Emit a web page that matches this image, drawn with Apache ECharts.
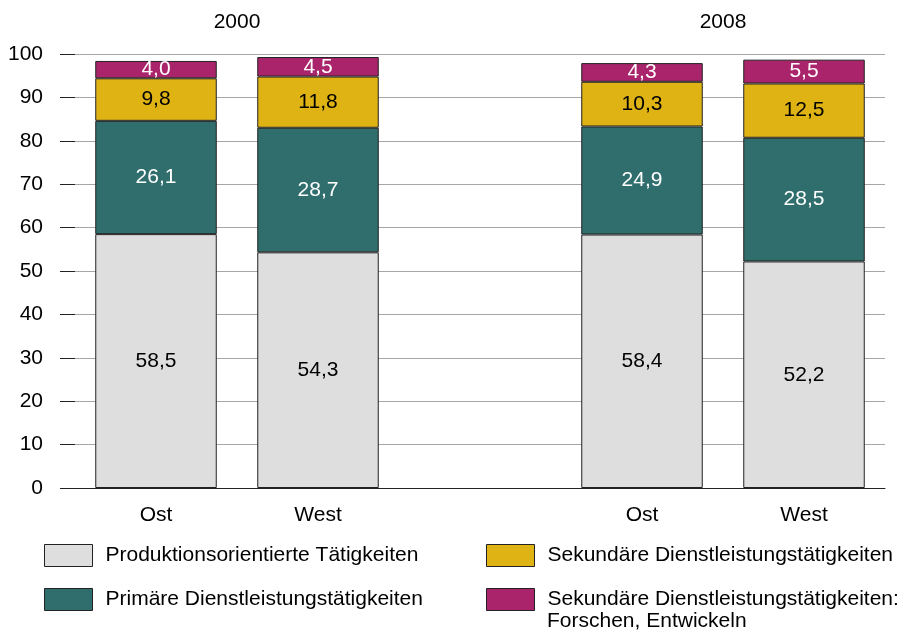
<!DOCTYPE html>
<html>
<head>
<meta charset="utf-8">
<script src="https://cdn.jsdelivr.net/npm/echarts@6/dist/echarts.min.js"></script>
<style>
  html, body { margin: 0; padding: 0; background: #fff; }
  #chart { width: 906px; height: 630px; }
</style>
</head>
<body>
<div id="chart"></div>
<script>
const categories = ['Ost', 'West', '', 'Ost', 'West']
const groupLabels = ['2000', '2008']
const produktion = [58.5, 54.3, '-', 58.4, 52.2]
const primaer = [26.1, 28.7, '-', 24.9, 28.5]
const sekundaer = [9.8, 11.8, '-', 10.3, 12.5]
const forschen = [4.0, 4.5, '-', 4.3, 5.5]

const seriesNames = [
  'Produktionsorientierte Tätigkeiten',
  'Primäre Dienstleistungstätigkeiten',
  'Sekundäre Dienstleistungstätigkeiten',
  'Sekundäre Dienstleistungstätigkeiten: Forschen, Entwickeln',
]
const colors = ['#dedede', '#2f6e6c', '#e0b315', '#aa246b']
const labelColors = ['#000', '#fff', '#000', '#fff']
const fontFamily = '"Liberation Sans", Arial, sans-serif'
const fontSize = 21

const chart = echarts.init(document.getElementById('chart'))

function fmt(p) {
  return Number(p.value).toFixed(1).replace('.', ',')
}

function makeSeries(name, data, i) {
  return {
    name,
    type: 'bar',
    stack: 'total',
    data,
    barWidth: '75%',
    itemStyle: { color: colors[i], borderColor: '#222', borderWidth: 1 },
    label: {
      show: true,
      position: 'inside',
      formatter: fmt,
      color: labelColors[i],
      fontSize,
      fontFamily,
    },
    emphasis: { disabled: true },
  }
}

// one legend per entry; the last one shows only its first line,
// the second line is added as a graphic text below
const legendSpots = [[44, 544], [44, 588], [486, 544], [486, 588]]
const legends = seriesNames.map((name, i) => ({
  left: legendSpots[i][0],
  top: legendSpots[i][1],
  padding: 0,
  itemWidth: 48,
  itemHeight: 22,
  icon: 'rect',
  itemStyle: { borderColor: '#222', borderWidth: 1 },
  textStyle: { fontSize, fontFamily, color: '#000', padding: [0, 0, 0, 8] },
  selectedMode: false,
  formatter: (n) => n.split(': ')[0] + (n.indexOf(': ') >= 0 ? ':' : ''),
  data: [name],
}))

chart.setOption({
  animation: false,
  color: colors,
  grid: { left: 75, right: 21, top: 54, bottom: 142 },
  legend: legends,
  xAxis: {
    type: 'category',
    data: categories,
    axisLine: { lineStyle: { color: '#222', width: 1 } },
    axisTick: { length: 14, lineStyle: { color: '#222' } },
    axisLabel: { color: '#000', fontSize, fontFamily, margin: 17 },
  },
  yAxis: {
    type: 'value',
    min: 0,
    max: 100,
    interval: 10,
    axisLine: { show: false },
    axisTick: { show: true, length: 15, lineStyle: { color: '#222' } },
    axisLabel: { color: '#000', fontSize, fontFamily, margin: 32 },
    splitLine: { lineStyle: { color: '#a6a6a6', width: 1 } },
  },
  series: [
    makeSeries(seriesNames[0], produktion, 0),
    makeSeries(seriesNames[1], primaer, 1),
    makeSeries(seriesNames[2], sekundaer, 2),
    makeSeries(seriesNames[3], forschen, 3),
  ],
})

// year labels above each pair of bars
const pairs = [[0, 1], [3, 4]]
const texts = pairs.map((pair, i) => {
  const x0 = chart.convertToPixel({ xAxisIndex: 0 }, pair[0])
  const x1 = chart.convertToPixel({ xAxisIndex: 0 }, pair[1])
  return {
    type: 'text',
    x: (x0 + x1) / 2,
    y: 22,
    style: {
      text: groupLabels[i],
      fill: '#000',
      font: fontSize + 'px ' + fontFamily,
      textAlign: 'center',
      textVerticalAlign: 'middle',
    },
  }
})
texts.push({
  type: 'text',
  x: 547,
  y: 621,
  style: {
    text: seriesNames[3].split(': ')[1],
    fill: '#000',
    font: fontSize + 'px ' + fontFamily,
    textAlign: 'left',
    textVerticalAlign: 'middle',
  },
})
chart.setOption({ graphic: texts })
</script>
</body>
</html>
